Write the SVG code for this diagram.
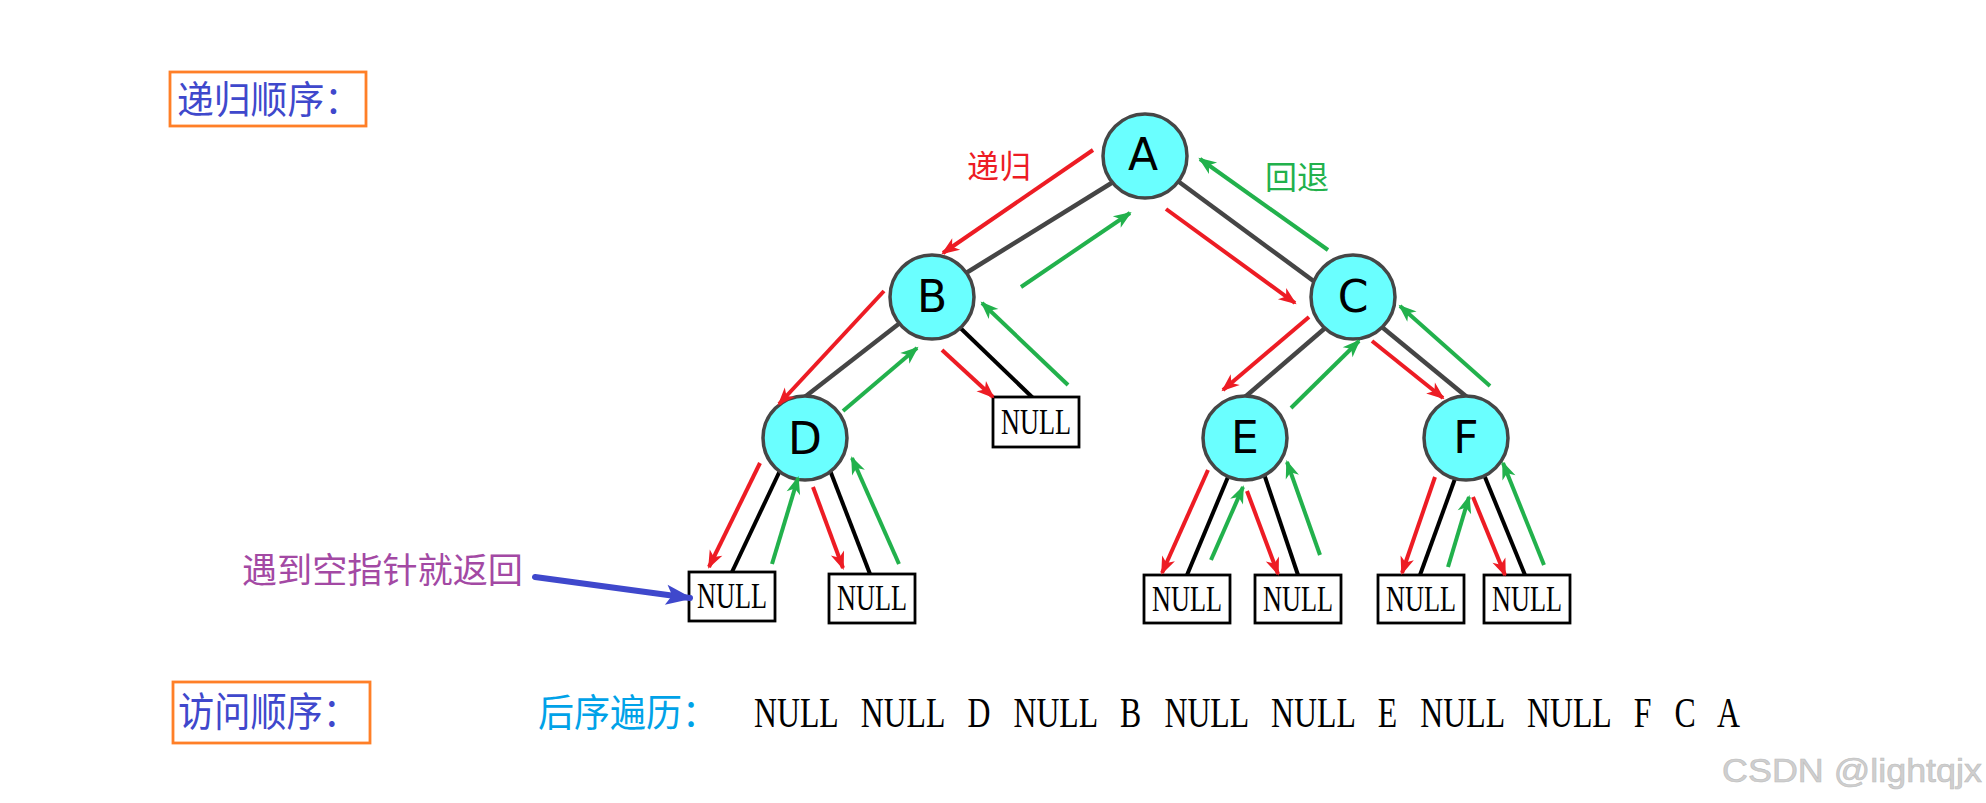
<svg xmlns="http://www.w3.org/2000/svg" width="1986" height="803" viewBox="0 0 1986 803">
<style>
.node{fill:#6affff;stroke:#464646;stroke-width:3.5}
.nl{font-family:"DejaVu Sans",sans-serif;font-size:44px;fill:#000;text-anchor:middle}
.box{fill:#fff;stroke:#000;stroke-width:2.8}
.bt{font-family:"Liberation Serif",serif;font-size:35px;fill:#000;text-anchor:middle}
.cj{font-family:"Noto Sans CJK SC",sans-serif}
.ge{stroke:#454545;stroke-width:4.5;fill:none}
.be{stroke:#000;stroke-width:4;fill:none}
.r{stroke:#ed1c24;stroke-width:4;fill:none;marker-end:url(#ar)}
.g{stroke:#22b14c;stroke-width:4;fill:none;marker-end:url(#ag)}
</style>
<defs>
<marker id="ar" markerUnits="userSpaceOnUse" markerWidth="20" markerHeight="16" refX="16" refY="7" orient="auto" overflow="visible"><path d="M0,0 L18,7 L0,14 L5,7 Z" fill="#ed1c24"/></marker>
<marker id="ag" markerUnits="userSpaceOnUse" markerWidth="20" markerHeight="16" refX="16" refY="7" orient="auto" overflow="visible"><path d="M0,0 L18,7 L0,14 L5,7 Z" fill="#22b14c"/></marker>
<marker id="ab" markerUnits="userSpaceOnUse" markerWidth="30" markerHeight="22" refX="24" refY="10" orient="auto" overflow="visible"><path d="M0,0 L27,10 L0,20 L6,10 Z" fill="#3f48cc"/></marker>
</defs>
<rect width="1986" height="803" fill="#fff"/>

<g id="title-recursion">
<rect x="170" y="72" width="196" height="54" fill="#fff" stroke="#ff7f27" stroke-width="2.8"/>
<text class="cj" x="177" y="113" font-size="38" fill="#3f48cc" textLength="184" lengthAdjust="spacingAndGlyphs">递归顺序：</text>
</g>

<g id="edges">
<line class="ge" x1="1118" y1="179" x2="958" y2="278"/>
<line class="ge" x1="1171" y1="176" x2="1323" y2="288"/>
<line class="ge" x1="905" y1="319" x2="797" y2="403"/>
<line class="ge" x1="1331" y1="323" x2="1238" y2="403"/>
<line class="ge" x1="1377" y1="323" x2="1473" y2="402"/>
<line class="be" x1="950" y1="318" x2="1033" y2="398"/>
<line class="be" x1="785" y1="460" x2="732" y2="572"/>
<line class="be" x1="826" y1="460" x2="870" y2="574"/>
<line class="be" x1="1233" y1="465" x2="1187" y2="575"/>
<line class="be" x1="1260" y1="462" x2="1298" y2="575"/>
<line class="be" x1="1460" y1="465" x2="1420" y2="575"/>
<line class="be" x1="1480" y1="465" x2="1525" y2="575"/>
</g>

<g id="node-A"><circle class="node" cx="1145" cy="156" r="42"/><text class="nl" x="1143" y="170">A</text></g>
<g id="node-B"><circle class="node" cx="932" cy="297" r="42"/><text class="nl" x="932" y="312">B</text></g>
<g id="node-C"><circle class="node" cx="1353" cy="297" r="42"/><text class="nl" x="1353" y="312">C</text></g>
<g id="node-D"><circle class="node" cx="805" cy="438" r="42"/><text class="nl" x="805" y="454">D</text></g>
<g id="node-E"><circle class="node" cx="1245" cy="438" r="42"/><text class="nl" x="1245" y="453">E</text></g>
<g id="node-F"><circle class="node" cx="1466" cy="438" r="42"/><text class="nl" x="1466" y="453">F</text></g>

<g id="null-B"><rect class="box" x="993" y="397" width="86" height="50"/><text class="bt" x="1036" y="434" textLength="70" lengthAdjust="spacingAndGlyphs">NULL</text></g>
<g id="null-D1"><rect class="box" x="689" y="572" width="86" height="49"/><text class="bt" x="732" y="608" textLength="70" lengthAdjust="spacingAndGlyphs">NULL</text></g>
<g id="null-D2"><rect class="box" x="829" y="574" width="86" height="49"/><text class="bt" x="872" y="610" textLength="70" lengthAdjust="spacingAndGlyphs">NULL</text></g>
<g id="null-E1"><rect class="box" x="1144" y="575" width="86" height="48"/><text class="bt" x="1187" y="611" textLength="70" lengthAdjust="spacingAndGlyphs">NULL</text></g>
<g id="null-E2"><rect class="box" x="1255" y="575" width="86" height="48"/><text class="bt" x="1298" y="611" textLength="70" lengthAdjust="spacingAndGlyphs">NULL</text></g>
<g id="null-F1"><rect class="box" x="1378" y="575" width="86" height="48"/><text class="bt" x="1421" y="611" textLength="70" lengthAdjust="spacingAndGlyphs">NULL</text></g>
<g id="null-F2"><rect class="box" x="1484" y="575" width="86" height="48"/><text class="bt" x="1527" y="611" textLength="70" lengthAdjust="spacingAndGlyphs">NULL</text></g>

<g id="connectors">
<line class="r" x1="1093" y1="150" x2="943" y2="253"/>
<line class="r" x1="1166" y1="209" x2="1295" y2="303"/>
<line class="r" x1="884" y1="291" x2="779" y2="404"/>
<line class="r" x1="942" y1="350" x2="993" y2="397"/>
<line class="r" x1="760" y1="463" x2="709" y2="567"/>
<line class="r" x1="813" y1="487" x2="843" y2="568"/>
<line class="r" x1="1309" y1="317" x2="1223" y2="390"/>
<line class="r" x1="1372" y1="341" x2="1443" y2="398"/>
<line class="r" x1="1208" y1="470" x2="1162" y2="573"/>
<line class="r" x1="1247" y1="491" x2="1278" y2="574"/>
<line class="r" x1="1435" y1="477" x2="1402" y2="573"/>
<line class="r" x1="1473" y1="497" x2="1505" y2="575"/>
<line class="g" x1="1021" y1="287" x2="1130" y2="213"/>
<line class="g" x1="1328" y1="250" x2="1200" y2="159"/>
<line class="g" x1="1068" y1="385" x2="982" y2="303"/>
<line class="g" x1="843" y1="411" x2="917" y2="348"/>
<line class="g" x1="772" y1="564" x2="798" y2="478"/>
<line class="g" x1="899" y1="564" x2="852" y2="458"/>
<line class="g" x1="1291" y1="408" x2="1359" y2="341"/>
<line class="g" x1="1490" y1="386" x2="1400" y2="306"/>
<line class="g" x1="1211" y1="560" x2="1243" y2="487"/>
<line class="g" x1="1320" y1="555" x2="1287" y2="462"/>
<line class="g" x1="1448" y1="567" x2="1469" y2="497"/>
<line class="g" x1="1544" y1="565" x2="1503" y2="463"/>
<line x1="535" y1="577" x2="690" y2="598" stroke="#3f48cc" stroke-width="6" stroke-linecap="round" marker-end="url(#ab)"/>
</g>

<g id="labels">
<text class="cj" x="967" y="178" font-size="32" fill="#ed1c24">递归</text>
<text class="cj" x="1265" y="189" font-size="32" fill="#22b14c">回退</text>
<text class="cj" x="242" y="583" font-size="35" fill="#a349a4" textLength="281" lengthAdjust="spacingAndGlyphs">遇到空指针就返回</text>
</g>

<g id="title-visit">
<rect x="173" y="682" width="197" height="61" fill="#fff" stroke="#ff7f27" stroke-width="2.8"/>
<text class="cj" x="178" y="726" font-size="40" fill="#3f48cc" textLength="181" lengthAdjust="spacingAndGlyphs">访问顺序：</text>
</g>

<g id="sequence">
<text class="cj" x="538" y="726" font-size="38" fill="#00a2e8" textLength="180" lengthAdjust="spacingAndGlyphs">后序遍历：</text>
<text x="754" y="727" font-family="Liberation Serif, serif" font-size="42" fill="#000" word-spacing="20" textLength="986" lengthAdjust="spacingAndGlyphs">NULL NULL D NULL B NULL NULL E NULL NULL F C A</text>
</g>

<text x="1722" y="782" font-family="Liberation Sans, Arial, sans-serif" font-size="33" fill="#cfcfcf" stroke="#bdbdbd" stroke-width="0.6" textLength="260" lengthAdjust="spacingAndGlyphs">CSDN @lightqjx</text>
</svg>
